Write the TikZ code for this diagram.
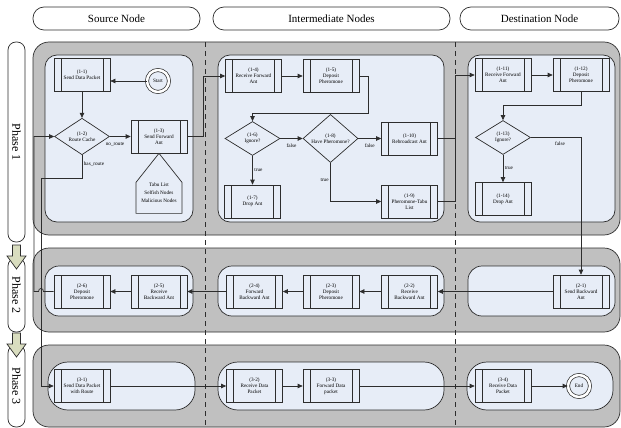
\documentclass[tikz,border=0pt]{standalone}
\usepackage{fontspec}
\setmainfont{Liberation Serif}
\usetikzlibrary{shapes.geometric,arrows.meta,calc}
\definecolor{rowgray}{RGB}{192,192,192}
\definecolor{lanefill}{RGB}{231,237,247}
\definecolor{phasefill}{RGB}{217,221,191}
\definecolor{linegray}{RGB}{45,45,45}
\newcommand{\boxfont}{\fontsize{5.2}{6.2}\selectfont}
\tikzset{%
  header/.style   = {shape=rectangle, rounded corners=11pt, draw=linegray,%
                     fill=white, minimum height=23pt, inner sep=0pt,%
                     font=\fontsize{11}{13}\selectfont},%
  phase/.style    = {header, rotate=-90, rounded corners=8pt,%
                     minimum height=17pt, font=\fontsize{12}{14}\selectfont},%
  phasearrow/.style = {draw=linegray, fill=phasefill},%
  rowlane/.style  = {draw=linegray, fill=rowgray, rounded corners=16pt},%
  lane/.style     = {draw=linegray, fill=lanefill, rounded corners=12pt},%
  proc/.style     = {shape=rectangle, draw=linegray, fill=lanefill,%
                     minimum width=56pt, minimum height=33pt, inner sep=1pt,%
                     align=center,%
                     path picture={%
                       \draw[linegray] ([xshift=7pt]path picture bounding box.north west)%
                         -- ([xshift=7pt]path picture bounding box.south west);%
                       \draw[linegray] ([xshift=-7pt]path picture bounding box.north east)%
                         -- ([xshift=-7pt]path picture bounding box.south east);}},%
  decision/.style = {shape=diamond, draw=linegray, fill=lanefill, align=center,%
                     minimum width=55pt, minimum height=34pt, inner sep=0pt},%
  terminal/.style = {shape=circle, draw=linegray, fill=lanefill, double,%
                     double distance=2.5pt, minimum size=22pt, inner sep=0pt},%
  flow/.style     = {draw=linegray, -{Triangle[length=5pt,width=4.5pt]}},%
  cond/.style     = {font=\boxfont, inner sep=1.5pt}%
}
\begin{document}
\begin{tikzpicture}[x=1pt, y=-1pt, line width=0.7pt,
	every node/.style={font=\boxfont}]
	\useasboundingbox (0,0) rectangle (621,428);
	\node (hsrc) at (116.5,18.5) [header, minimum width=167pt] {Source Node};
	\node (hint) at (331.5,18.5) [header, minimum width=237pt] {Intermediate Nodes};
	\node (hdst) at (539.5,18.5) [header, minimum width=159pt] {Destination Node};
	\node (ph1) at (16.5,142) [phase, minimum width=200pt] {Phase 1};
	\node (ph2) at (16.5,295) [phase, minimum width=74pt] {Phase 2};
	\node (ph3) at (16.5,386) [phase, minimum width=82pt] {Phase 3};
	\draw[phasearrow] (12.5,245) -- ++(8,0) -- ++(0,11) -- ++(5.5,0)
		-- ++(-9.5,13) -- ++(-9.5,-13) -- ++(5.5,0) -- cycle;
	\draw[phasearrow] (12.5,333) -- ++(8,0) -- ++(0,11) -- ++(5.5,0)
		-- ++(-9.5,13) -- ++(-9.5,-13) -- ++(5.5,0) -- cycle;
	\draw[rowlane] (33,42) rectangle (620,235);
	\draw[rowlane] (33,248) rectangle (620,332);
	\draw[rowlane] (33,345) rectangle (620,427);
	\draw[linegray, dash pattern=on 5pt off 4pt] (205,42) -- (205,428);
	\draw[linegray, dash pattern=on 5pt off 4pt] (455,42) -- (455,428);
	\draw[lane] (45,55) rectangle (193,222);
	\draw[lane] (218,55) rectangle (444,222);
	\draw[lane] (468,55) rectangle (615,222);
	\draw[lane, rounded corners=14pt] (45,266) rectangle (193,316);
	\draw[lane, rounded corners=14pt] (218,266) rectangle (444,316);
	\draw[lane, rounded corners=14pt] (468,266) rectangle (615,316);
	\draw[lane, rounded corners=20pt] (48,362) rectangle (195,410);
	\draw[lane, rounded corners=20pt] (218,362) rectangle (444,410);
	\draw[lane, rounded corners=20pt] (467,362) rectangle (613,410);
	\begin{scope}
		\node (p11) at (82,74.5) [proc] {(1-1)\\Send Data Packet};
		\node (start) at (158,81) [terminal] {Start};
		\node (p12) at (82,136.5) [decision] {(1-2)\\Route Cache};
		\node (p13) at (159,136.5) [proc] {(1-3)\\Send Forward\\Ant};
		\draw[draw=linegray, fill=lanefill] (p13.south) -- ++(23,29) -- ++(0,31)
			-- ++(-46,0) -- ++(0,-31) -- cycle;
		\node (tabu) at (159,193) [align=center, font=\fontsize{5.2}{8}\selectfont]
			{Tabu List\\Selfish Nodes\\Malicious Nodes};
		\node (p14) at (253.5,76) [proc] {(1-4)\\Receive Forward\\Ant};
		\node (p15) at (331,76) [proc] {(1-5)\\Deposit\\Pheromone};
		\node (p16) at (252.5,138.5) [decision] {(1-6)\\Ignore?};
		\node (p18) at (330.5,138.5) [decision] {(1-8)\\Have Pheromone?};
		\node (p110) at (409.5,138.5) [proc] {(1-10)\\Rebroadcast Ant};
		\node (p17) at (252.5,201.5) [proc] {(1-7)\\Drop Ant};
		\node (p19) at (409.5,201.5) [proc] {(1-9)\\Pheromone-Tabu\\List};
		\node (p111) at (503,75) [proc] {(1-11)\\Receive Forward\\Ant};
		\node (p112) at (581,75) [proc] {(1-12)\\Deposit\\Pheromone};
		\node (p113) at (503,137.5) [decision] {(1-13)\\Ignore?};
		\node (p114) at (503,199) [proc] {(1-14)\\Drop Ant};
	\end{scope}
	\begin{scope}
		\node (p21) at (581,291.5) [proc] {(2-1)\\Send Backward\\Ant};
		\node (p22) at (409.5,291.5) [proc] {(2-2)\\Receive\\Backward Ant};
		\node (p23) at (331,291.5) [proc] {(2-3)\\Deposit\\Pheromone};
		\node (p24) at (254.5,291.5) [proc] {(2-4)\\Forward\\Backward Ant};
		\node (p25) at (159,291.5) [proc] {(2-5)\\Receive\\Backward Ant};
		\node (p26) at (82,291.5) [proc] {(2-6)\\Deposit\\Pheromone};
	\end{scope}
	\begin{scope}
		\node (p31) at (82,386) [proc] {(3-1)\\Send Data Packet\\with Route};
		\node (p32) at (254.5,386) [proc] {(3-2)\\Receive Data\\Packet};
		\node (p33) at (331,386) [proc] {(3-3)\\Forward Data\\packet};
		\node (p34) at (503,386) [proc] {(3-4)\\Receive Data\\Packet};
		\node (finish) at (579,386) [terminal] {End};
	\end{scope}
	\coordinate (hr) at (41,178);
	\coordinate (ret) at (34,200);
	\coordinate (j1) at (203,0);
	\coordinate (b15) at (368,113);
	\coordinate (j2) at (455,138.5);
	\coordinate (b112) at (581,105);
	\coordinate (hopr) at (43.5,291.5);
	\coordinate (hopl) at (38.5,291.5);
	\draw[flow] (start) -- (start -| p11.east);
	\draw[flow] (p11) -- (p12);
	\draw[flow] (p12) -- node[cond, pos=0.25, below=4pt] {no\_route} (p13);
	\draw[flow] (p12.south) |- node[cond, pos=0.2, right] {has\_route} (hr) |- (p31.west);
	\draw[flow] (p13.east) -- (p13.east -| j1) |- (p14.west);
	\draw[flow] (p14) -- (p15);
	\draw[flow] (p15.east) -| (b15) -| (p16.north);
	\draw[flow] (p16) -- node[cond, below=3pt] {false} (p18);
	\draw[flow] (p18) -- node[cond, below=3pt] {false} (p110);
	\draw[flow] (p16) -- node[cond, right] {true} (p17);
	\draw[flow] (p18.south) |- node[cond, pos=0.22, left] {true} (p19.west);
	\draw[linegray] (p19.east) -| (j2);
	\draw[flow] (p110.east) -- (j2) |- (p111.west);
	\draw[flow] (p111) -- (p112);
	\draw[flow] (p112.south) -- (b112) -| (p113.north);
	\draw[flow] (p113.east) -| node[cond, pos=0.29, below=2pt] {false} (p21.north);
	\draw[flow] (p113) -- node[cond, right] {true} (p114);
	\draw[flow] (p21) -- (p22);
	\draw[flow] (p22) -- (p23);
	\draw[flow] (p23) -- (p24);
	\draw[flow] (p24) -- (p25);
	\draw[flow] (p25) -- (p26);
	\draw[flow] (p26.west) -- (hopr) .. controls +(0,-4) and +(0,-4) .. (hopl)
		-- (p26.west -| ret) |- (p12.west);
	\draw[flow] (p31) -- (p32);
	\draw[flow] (p32) -- (p33);
	\draw[flow] (p33) -- (p34);
	\draw[flow] (p34) -- (finish);
\end{tikzpicture}
\end{document}
